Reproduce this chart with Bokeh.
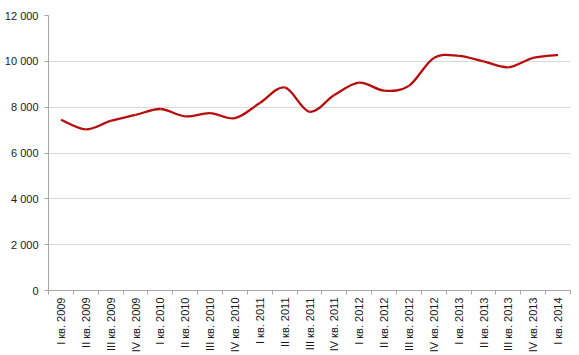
import numpy as np
from bokeh.plotting import figure
from bokeh.models import FixedTicker, ColumnDataSource, Range1d
from bokeh.embed import file_html
from bokeh.resources import INLINE

quarters = ["I кв. 2009", "II кв. 2009", "III кв. 2009", "IV кв. 2009",
            "I кв. 2010", "II кв. 2010", "III кв. 2010", "IV кв. 2010",
            "I кв. 2011", "II кв. 2011", "III кв. 2011", "IV кв. 2011",
            "I кв. 2012", "II кв. 2012", "III кв. 2012", "IV кв. 2012",
            "I кв. 2013", "II кв. 2013", "III кв. 2013", "IV кв. 2013",
            "I кв. 2014"]
values = [7450, 7030, 7400, 7660, 7920, 7600, 7740, 7520,
          8180, 8860, 7800, 8530, 9070, 8720, 8930, 10150,
          10240, 10000, 9740, 10150, 10280]
y_ticks = [0, 2000, 4000, 6000, 8000, 10000, 12000]
y_labels = ["0", "2 000", "4 000", "6 000", "8 000", "10 000", "12 000"]

n = len(quarters)
xs = np.arange(n, dtype=float)
ys = np.array(values, dtype=float)

# smoothed line (Catmull-Rom style Bezier segments, like a spreadsheet "smoothed line")
px = np.concatenate([[xs[0]], xs, [xs[-1]]])
py = np.concatenate([[ys[0]], ys, [ys[-1]]])
x0, y0, x1, y1, cx0, cy0, cx1, cy1 = [], [], [], [], [], [], [], []
for i in range(n - 1):
    p0x, p0y = px[i], py[i]
    p1x, p1y = px[i + 1], py[i + 1]
    p2x, p2y = px[i + 2], py[i + 2]
    p3x, p3y = px[i + 3], py[i + 3]
    x0.append(p1x); y0.append(p1y)
    x1.append(p2x); y1.append(p2y)
    cx0.append(p1x + (p2x - p0x) / 6.0); cy0.append(p1y + (p2y - p0y) / 6.0)
    cx1.append(p2x - (p3x - p1x) / 6.0); cy1.append(p2y - (p3y - p1y) / 6.0)
src = ColumnDataSource(dict(x0=x0, y0=y0, x1=x1, y1=y1,
                            cx0=cx0, cy0=cy0, cx1=cx1, cy1=cy1))

p = figure(width=579, height=355, output_backend="svg", toolbar_location=None,
           x_range=Range1d(-0.5, n - 0.5), y_range=Range1d(0, 12000),
           min_border_left=48, min_border_right=9, min_border_top=15,
           min_border_bottom=65)
p.outline_line_color = None
p.background_fill_color = "white"
p.border_fill_color = "white"

p.bezier(x0="x0", y0="y0", x1="x1", y1="y1", cx0="cx0", cy0="cy0",
         cx1="cx1", cy1="cy1", source=src, line_color="#b80d0d", line_width=2.3)

# x axis
p.xaxis.ticker = FixedTicker(ticks=list(range(n)),
                             minor_ticks=[i - 0.5 for i in range(n + 1)])
p.xaxis.major_label_overrides = {i: q for i, q in enumerate(quarters)}
p.xaxis.major_label_orientation = np.pi / 2
p.xaxis.major_tick_line_color = None
p.xaxis.minor_tick_line_color = "#a6a6a6"
p.xaxis.minor_tick_in = 0
p.xaxis.minor_tick_out = 4
p.xaxis.axis_line_color = "#a6a6a6"
p.xaxis.major_label_standoff = 1
p.xaxis.major_label_text_font = "Liberation Sans"
p.xaxis.major_label_text_font_size = "11px"
p.xaxis.major_label_text_color = "#1a1a1a"

# y axis
p.yaxis.ticker = FixedTicker(ticks=y_ticks, minor_ticks=[])
p.yaxis.major_label_overrides = {t: l for t, l in zip(y_ticks, y_labels)}
p.yaxis.axis_line_color = "#a6a6a6"
p.yaxis.major_tick_line_color = "#a6a6a6"
p.yaxis.major_tick_in = 0
p.yaxis.major_tick_out = 4
p.yaxis.minor_tick_line_color = None
p.yaxis.major_label_standoff = 6
p.yaxis.major_label_text_font = "Liberation Sans"
p.yaxis.major_label_text_font_size = "11px"
p.yaxis.major_label_text_color = "#1a1a1a"

p.xgrid.grid_line_color = None
p.ygrid.grid_line_color = "#d9d9d9"
p.ygrid.grid_line_width = 1
p.ygrid.ticker = FixedTicker(ticks=y_ticks)

open("out.html", "w").write(file_html(p, INLINE))
